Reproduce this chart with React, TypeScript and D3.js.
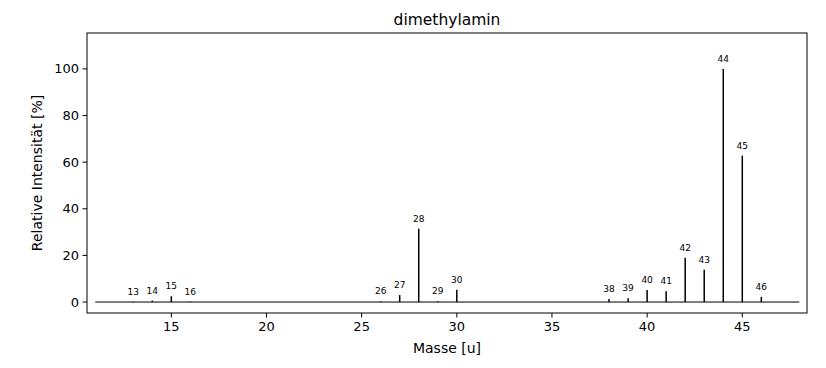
import React from "react";
import * as d3 from "d3";

const masses = [13, 14, 15, 16, 26, 27, 28, 29, 30, 38, 39, 40, 41, 42, 43, 44, 45, 46];
const intensities = [0.2, 0.6, 2.5, 0.2, 0.3, 3, 31.5, 0.3, 5.3, 1.3, 1.6, 5.2, 4.6, 19, 13.8, 100, 62.8, 2.2];
const xTicks = [15, 20, 25, 30, 35, 40, 45];
const yTicks = [0, 20, 40, 60, 80, 100];

const W = 826;
const H = 368;
const m = { left: 87, right: 19, top: 33, bottom: 55 };
const font = "DejaVu Sans, sans-serif";

export default function App() {
  const x = d3.scaleLinear().domain([10.57, 48.4]).range([m.left, W - m.right]);
  const y = d3.scaleLinear().domain([-4.7, 115.4]).range([H - m.bottom, m.top]);

  return (
    <svg
      width={W}
      height={H}
      style={{ position: "absolute", left: 0, top: 0, background: "#fff" }}
      fontFamily={font}
    >
      {/* grundlinie */}
      <line x1={x(11)} x2={x(48)} y1={y(0)} y2={y(0)} stroke="#000" strokeWidth={1} />

      {/* peaks */}
      {masses.map((mz, i) => (
        <g key={mz}>
          <line x1={x(mz)} x2={x(mz)} y1={y(0)} y2={y(intensities[i])} stroke="#000" strokeWidth={1.5} />
          <text x={x(mz)} y={y(intensities[i]) - 7} textAnchor="middle" fontSize={9} fill="#000">
            {mz}
          </text>
        </g>
      ))}

      {/* rahmen */}
      <rect
        x={m.left}
        y={m.top}
        width={W - m.left - m.right}
        height={H - m.top - m.bottom}
        fill="none"
        stroke="#000"
        strokeWidth={1}
      />

      {xTicks.map((t) => (
        <g key={"x" + t}>
          <line x1={x(t)} x2={x(t)} y1={H - m.bottom} y2={H - m.bottom + 4.5} stroke="#000" />
          <text x={x(t)} y={H - m.bottom + 18} textAnchor="middle" fontSize={13}>
            {t}
          </text>
        </g>
      ))}

      {yTicks.map((t) => (
        <g key={"y" + t}>
          <line x1={m.left - 4.5} x2={m.left} y1={y(t)} y2={y(t)} stroke="#000" />
          <text x={m.left - 8} y={y(t)} dy="0.35em" textAnchor="end" fontSize={13}>
            {t}
          </text>
        </g>
      ))}

      <text x={(m.left + W - m.right) / 2} y={353} textAnchor="middle" fontSize={14}>
        Masse [u]
      </text>
      <text
        transform={`translate(42,${(m.top + H - m.bottom) / 2}) rotate(-90)`}
        textAnchor="middle"
        fontSize={14}
      >
        Relative Intensität [%]
      </text>
      <text x={(m.left + W - m.right) / 2} y={25} textAnchor="middle" fontSize={15.5}>
        dimethylamin
      </text>
    </svg>
  );
}
